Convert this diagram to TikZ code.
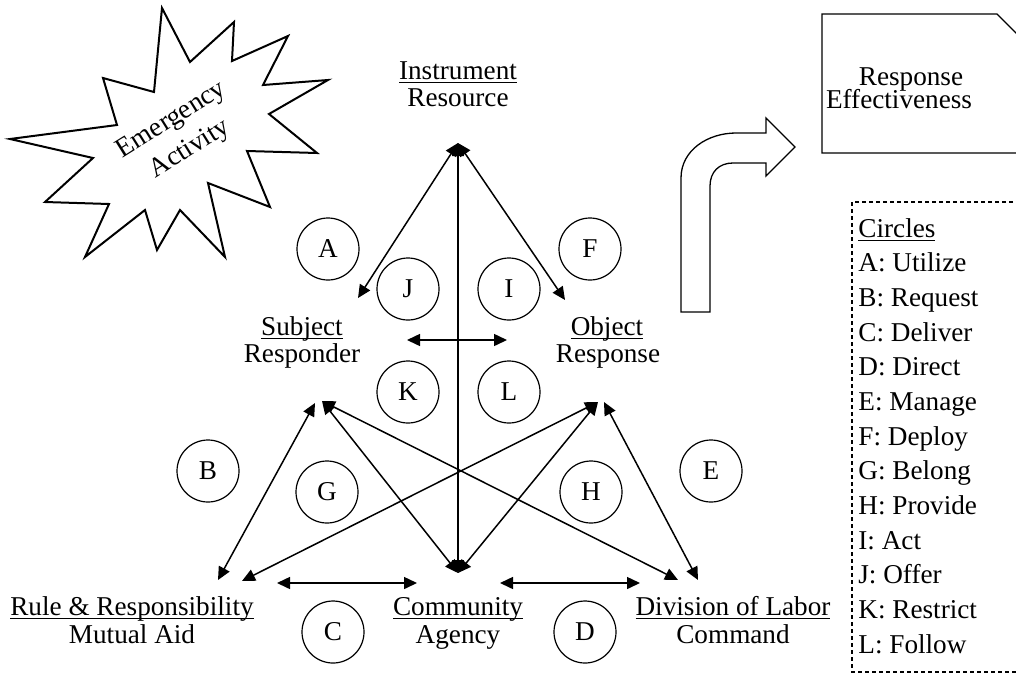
\documentclass[tikz,border=0pt]{standalone}
\usepackage{fontspec}
\setmainfont{Liberation Serif}
\usetikzlibrary{arrows.meta}
\newcommand\myul[1]{\setbox0\hbox{#1}\rlap{\rule[-2pt]{\wd0}{0.65pt}}\box0}
\begin{document}
\begin{tikzpicture}[x=0.5pt,y=-0.5pt,
  every node/.style={font=\fontsize{13.6}{16}\selectfont, inner sep=0pt},
  lbl/.style={anchor=base},
  circ/.style={draw, circle, line width=0.6pt, minimum size=31pt},
  conn/.style={line width=0.75pt, {Triangle[length=6.5pt,width=6pt]}-{Triangle[length=6.5pt,width=6pt]}},
  thin outline/.style={line width=0.65pt, line join=miter}
]
\useasboundingbox (0,0) rectangle (1016,675);

% starburst
\draw[line width=1pt, line join=miter]
  (162,8) -- (190,62) -- (234,22) -- (232,61) -- (288,36) -- (263,85)
  -- (328,80) -- (269,114) -- (317,153) -- (247,151) -- (270,207)
  -- (208,183) -- (225,257) -- (180,210) -- (157,250) -- (145,210)
  -- (85,257) -- (109,204) -- (45,202) -- (93,158) -- (10,139)
  -- (117,125) -- (103,78) -- (154,92) -- cycle;
\node[rotate=32, align=center, font=\fontsize{13.6}{17}\selectfont] (emerg) at (181,135) {Emergency\\Activity};

% document shape and legend
\begin{scope}
\clip (0,0) rectangle (1016,675);
\draw[thin outline] (822,14) -- (997,14) -- (1040,57) -- (1040,153) -- (822,153) -- cycle;
\draw[line width=0.6pt, dash pattern=on 2pt off 1.5pt] (852,202) rectangle (1040,672);
\end{scope}
\node[lbl] (resp) at (911,85) {Response};
\node[lbl] (eff) at (899,108) {Effectiveness};

% bent arrow
\draw[thin outline] (681,312) -- (681,178) .. controls (681,150) and (708,133) .. (736,133)
  -- (766,133) -- (766,118) -- (795,147) -- (766,176) -- (766,163) -- (733,163)
  .. controls (719,163) and (710,172) .. (710,186) -- (710,312) -- cycle;

% legend text
\node[anchor=base west] (legT) at (858,237.3) {\myul{Circles}};
\foreach \t [count=\i] in {A: Utilize, B: Request, C: Deliver, D: Direct, E: Manage, F: Deploy, G: Belong, H: Provide, I: Act, J: Offer, K: Restrict, L: Follow}
  \node[anchor=base west] (leg\i) at (858,{237.3+34.65*\i}) {\t};

% labels
\node[lbl] (instr) at (458,79) {\myul{Instrument}};
\node[lbl] (resrc) at (458,106) {Resource};
\node[lbl] (subj) at (302,335) {\myul{Subject}};
\node[lbl] (respd) at (302,362) {Responder};
\node[lbl] (obj) at (607,335) {\myul{Object}};
\node[lbl] (respn) at (608,362) {Response};
\node[lbl] (rule) at (132,615) {\myul{Rule \& Responsibility}};
\node[lbl] (mutual) at (132,643) {Mutual Aid};
\node[lbl] (comm) at (458,615) {\myul{Community}};
\node[lbl] (agency) at (458,643) {Agency};
\node[lbl] (div) at (733,615) {\myul{Division of Labor}};
\node[lbl] (cmd) at (733,643) {Command};

% circles
\node[circ] (cA) at (328,249) {A};
\node[circ] (cF) at (590,249) {F};
\node[circ] (cJ) at (408,289) {J};
\node[circ] (cI) at (509,289) {I};
\node[circ] (cK) at (408,392) {K};
\node[circ] (cL) at (509,392) {L};
\node[circ] (cB) at (208,471) {B};
\node[circ] (cG) at (327,492) {G};
\node[circ] (cH) at (591,492) {H};
\node[circ] (cE) at (711,471) {E};
\node[circ] (cC) at (333,632) {C};
\node[circ] (cD) at (585,632) {D};

% connector end points
\coordinate (top) at (458,143);
\coordinate (bot) at (458,573);
\coordinate (subT) at (358,298);
\coordinate (objT) at (565,300);
\coordinate (subL) at (315,403);
\coordinate (subR) at (322,401);
\coordinate (objL) at (598,402);
\coordinate (objR) at (604,402);
\coordinate (ruleS) at (218,580);
\coordinate (ruleH) at (242,581);
\coordinate (divH) at (678,580);
\coordinate (divS) at (698,580);
\coordinate (hl1) at (277,583);
\coordinate (hl2) at (417,583);
\coordinate (hr1) at (500,583);
\coordinate (hr2) at (640,583);
\coordinate (hm1) at (407,340);
\coordinate (hm2) at (507,340);

% connectors
\draw[conn] (top) -- (subT);
\draw[conn] (top) -- (objT);
\draw[conn] (top) -- (bot);
\draw[conn] (hm1) -- (hm2);
\draw[conn] (subL) -- (ruleS);
\draw[conn] (subR) -- (bot);
\draw[conn] (subR) -- (divH);
\draw[conn] (objL) -- (ruleH);
\draw[conn] (objL) -- (bot);
\draw[conn] (objR) -- (divS);
\draw[conn] (hl1) -- (hl2);
\draw[conn] (hr1) -- (hr2);
\end{tikzpicture}
\end{document}
